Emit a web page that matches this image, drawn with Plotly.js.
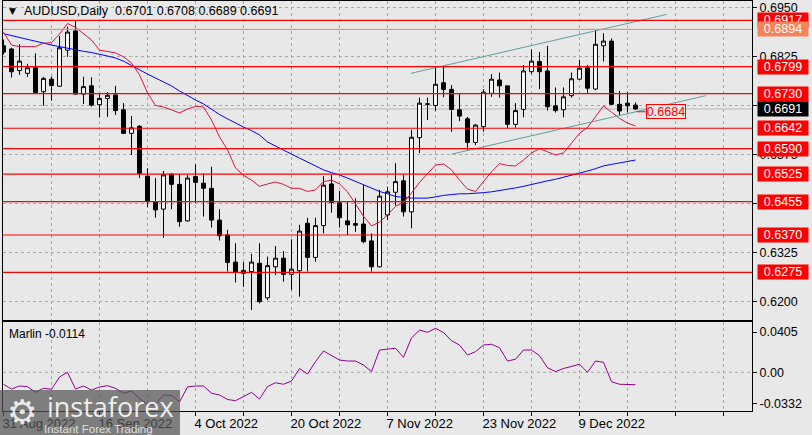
<!DOCTYPE html>
<html><head><meta charset="utf-8">
<script src="https://cdn.plot.ly/plotly-3.0.1.min.js"></script>
<style>html,body{margin:0;padding:0;background:#e8e8e8;}#chart{width:812px;height:435px;}</style>
</head><body><div id="chart"></div>
<script>
const dates = ['2022-08-31','2022-09-01','2022-09-02','2022-09-05','2022-09-06','2022-09-07','2022-09-08','2022-09-09','2022-09-12','2022-09-13',
'2022-09-14','2022-09-15','2022-09-16','2022-09-19','2022-09-20','2022-09-21','2022-09-22','2022-09-23','2022-09-26','2022-09-27',
'2022-09-28','2022-09-29','2022-09-30','2022-10-03','2022-10-04','2022-10-05','2022-10-06','2022-10-07','2022-10-10','2022-10-11',
'2022-10-12','2022-10-13','2022-10-14','2022-10-17','2022-10-18','2022-10-19','2022-10-20','2022-10-21','2022-10-24','2022-10-25',
'2022-10-26','2022-10-27','2022-10-28','2022-10-31','2022-11-01','2022-11-02','2022-11-03','2022-11-04','2022-11-07','2022-11-08',
'2022-11-09','2022-11-10','2022-11-11','2022-11-14','2022-11-15','2022-11-16','2022-11-17','2022-11-18','2022-11-21','2022-11-22',
'2022-11-23','2022-11-24','2022-11-25','2022-11-28','2022-11-29','2022-11-30','2022-12-01','2022-12-02','2022-12-05','2022-12-06',
'2022-12-07','2022-12-08','2022-12-09','2022-12-12','2022-12-13','2022-12-14','2022-12-15','2022-12-16','2022-12-19','2022-12-20'];

const openP = [0.6852,0.6844,0.6789,0.6782,0.6796,0.6735,0.6767,0.6749,0.6841,0.6890,
0.6729,0.6750,0.6702,0.6718,0.6727,0.6689,0.6629,0.6647,0.6520,0.6455,
0.6436,0.6525,0.6499,0.6406,0.6519,0.6502,0.6489,0.6408,0.6370,0.6301,
0.6272,0.6277,0.6298,0.6210,0.6289,0.6311,0.6270,0.6279,0.6400,0.6313,
0.6394,0.6500,0.6452,0.6406,0.6399,0.6398,0.6355,0.6289,0.6421,0.6479,
0.6508,0.6429,0.6618,0.6703,0.6700,0.6758,0.6741,0.6689,0.6666,0.6606,
0.6646,0.6731,0.6765,0.6750,0.6652,0.6690,0.6786,0.6812,0.6788,0.6699,
0.6689,0.6725,0.6767,0.6796,0.6742,0.6852,0.6864,0.6703,0.6706,0.6701];
const highP = [0.6868,0.6847,0.6856,0.6806,0.6833,0.6773,0.6774,0.6877,0.6901,0.6916,
0.6773,0.6772,0.6731,0.6734,0.6750,0.6706,0.6673,0.6650,0.6540,0.6515,
0.6533,0.6527,0.6525,0.6523,0.6550,0.6527,0.6544,0.6436,0.6383,0.6349,
0.6301,0.6322,0.6349,0.6315,0.6342,0.6329,0.6359,0.6396,0.6414,0.6414,
0.6520,0.6523,0.6482,0.6455,0.6464,0.6497,0.6374,0.6485,0.6493,0.6553,
0.6523,0.6638,0.6720,0.6720,0.6799,0.6799,0.6752,0.6731,0.6671,0.6653,
0.6741,0.6780,0.6784,0.6750,0.6706,0.6803,0.6843,0.6836,0.6852,0.6746,
0.6746,0.6784,0.6816,0.6803,0.6892,0.6884,0.6871,0.6737,0.6734,0.6708];
const lowP = [0.6830,0.6771,0.6778,0.6773,0.6729,0.6699,0.6712,0.6748,0.6824,0.6727,
0.6704,0.6697,0.6670,0.6671,0.6676,0.6627,0.6574,0.6515,0.6441,0.6414,
0.6363,0.6436,0.6391,0.6404,0.6452,0.6417,0.6389,0.6356,0.6277,0.6249,
0.6238,0.6179,0.6196,0.6204,0.6268,0.6251,0.6230,0.6213,0.6277,0.6302,
0.6374,0.6427,0.6389,0.6370,0.6378,0.6349,0.6277,0.6287,0.6408,0.6445,
0.6417,0.6387,0.6579,0.6663,0.6686,0.6721,0.6633,0.6660,0.6587,0.6599,
0.6633,0.6722,0.6720,0.6642,0.6643,0.6670,0.6780,0.6742,0.6687,0.6682,
0.6670,0.6720,0.6765,0.6729,0.6739,0.6812,0.6701,0.6676,0.6682,0.6689];
const closeP = [0.6836,0.6786,0.6813,0.6796,0.6733,0.6769,0.6751,0.6847,0.6887,0.6729,
0.6748,0.6701,0.6718,0.6726,0.6687,0.6629,0.6643,0.6527,0.6455,0.6434,
0.6523,0.6499,0.6404,0.6515,0.6504,0.6489,0.6408,0.6368,0.6300,0.6276,
0.6280,0.6301,0.6200,0.6292,0.6311,0.6270,0.6283,0.6380,0.6313,0.6394,
0.6497,0.6453,0.6414,0.6396,0.6395,0.6353,0.6289,0.6469,0.6480,0.6506,
0.6429,0.6619,0.6706,0.6704,0.6754,0.6741,0.6690,0.6673,0.6606,0.6650,
0.6734,0.6767,0.6750,0.6652,0.6687,0.6788,0.6813,0.6786,0.6697,0.6687,
0.6722,0.6768,0.6795,0.6744,0.6856,0.6864,0.6703,0.6686,0.6699,0.6691];

const maFast = [0.6887,0.6854,0.6850,0.6850,0.6850,0.6859,0.6860,0.6882,0.6909,0.6899,
0.6882,0.6867,0.6841,0.6838,0.6834,0.6824,0.6808,0.6778,0.6732,0.6700,
0.6696,0.6689,0.6681,0.6691,0.6698,0.6696,0.6663,0.6620,0.6587,0.6541,
0.6522,0.6510,0.6494,0.6500,0.6505,0.6499,0.6489,0.6489,0.6481,0.6485,
0.6506,0.6510,0.6500,0.6480,0.6449,0.6418,0.6393,0.6403,0.6421,0.6443,
0.6453,0.6477,0.6504,0.6527,0.6548,0.6551,0.6536,0.6510,0.6487,0.6481,
0.6505,0.6531,0.6552,0.6547,0.6546,0.6561,0.6579,0.6590,0.6582,0.6574,
0.6579,0.6604,0.6629,0.6644,0.6672,0.6699,0.6683,0.6667,0.6655,0.6648];
const maSlow = [0.6883,0.6878,0.6873,0.6868,0.6863,0.6858,0.6854,0.6850,0.6846,0.6841,
0.6838,0.6835,0.6831,0.6826,0.6821,0.6813,0.6802,0.6790,0.6780,0.6770,
0.6761,0.6750,0.6737,0.6725,0.6714,0.6704,0.6690,0.6677,0.6666,0.6655,
0.6645,0.6636,0.6625,0.6607,0.6596,0.6587,0.6576,0.6566,0.6556,0.6545,
0.6536,0.6529,0.6523,0.6515,0.6506,0.6499,0.6490,0.6481,0.6475,0.6468,
0.6466,0.6464,0.6464,0.6464,0.6467,0.6471,0.6473,0.6475,0.6475,0.6476,
0.6478,0.6480,0.6483,0.6486,0.6490,0.6494,0.6499,0.6504,0.6508,0.6512,
0.6517,0.6522,0.6527,0.6533,0.6539,0.6546,0.6550,0.6554,0.6557,0.6561];

const marlin = [-0.0110,-0.0154,-0.0126,-0.0132,-0.0184,-0.0147,-0.0156,-0.0043,0.0000,-0.0154,
-0.0126,-0.0163,-0.0135,-0.0123,-0.0147,-0.0193,-0.0172,-0.0239,-0.0294,-0.0294,
-0.0209,-0.0213,-0.0273,-0.0135,-0.0126,-0.0126,-0.0193,-0.0209,-0.0250,-0.0261,
-0.0224,-0.0184,-0.0246,-0.0131,-0.0096,-0.0110,-0.0080,0.0035,-0.0016,0.0099,
0.0196,0.0153,0.0113,0.0104,0.0104,0.0067,0.0007,0.0205,0.0212,0.0221,
0.0138,0.0316,0.0389,0.0368,0.0405,0.0366,0.0291,0.0251,0.0159,0.0190,
0.0251,0.0258,0.0226,0.0104,0.0120,0.0205,0.0205,0.0153,0.0042,0.0007,
0.0035,0.0058,0.0074,0.0000,0.0104,0.0092,-0.0086,-0.0110,-0.0110,-0.0114];

// channel trendline anchors: [bar position, price]
const chanUpperX = [50.94, 82.9], chanUpperY = [0.6782, 0.6932];
const chanLowerX = [56.03, 87.78], chanLowerY = [0.6576, 0.6725];

const redLevels = [0.6917, 0.6799, 0.6730, 0.6642, 0.6590, 0.6525, 0.6455, 0.6370, 0.6275];
const orangeLevel = 0.6894;
const bidLevel = 0.6691;
const markLevel = 0.6684;
const priceTicks = [0.6950, 0.6825, 0.6700, 0.6575, 0.6450, 0.6325, 0.6200];
// Marlin scale labels (max, zero, min); the end labels sit clamped inside the sub-window like the terminal does
const marlinTickText = ['0.0405', '0.00', '-0.0332'];
const marlinTickPos = [0.0370, 0, -0.0285];
const header = 'AUDUSD,Daily  0.6701 0.6708 0.6689 0.6691';
const marlinLabel = 'Marlin -0.0114';

const MONTHS = ['Jan','Feb','Mar','Apr','May','Jun','Jul','Aug','Sep','Oct','Nov','Dec'];
const idx = dates.map((d, i) => i);
function fmtDate(s) { const p = s.split('-'); return (+p[2]) + ' ' + MONTHS[+p[1]-1] + ' ' + p[0]; }
const xTickVals = [], xTickText = [];
for (let i = 0; i <= 90; i += 6) { xTickVals.push(i); xTickText.push((i % 12 === 0 && i < dates.length) ? fmtDate(dates[i]) : ''); }

const FONT = 'Liberation Sans, Arial, sans-serif';
const BG = '#e8e8e8';
const GRID = '#a8a8a8';

const traces = [
  { type: 'candlestick', x: idx, open: openP, high: highP, low: lowP, close: closeP, xaxis: 'x2', yaxis: 'y',
    increasing: { line: { color: '#000000', width: 1 }, fillcolor: '#ffffff' },
    decreasing: { line: { color: '#000000', width: 1 }, fillcolor: '#000000' },
    whiskerwidth: 0, hoverinfo: 'skip' },
  { type: 'scatter', mode: 'lines', x: idx, y: maSlow, xaxis: 'x2', yaxis: 'y', line: { color: '#0000ff', width: 1 }, hoverinfo: 'skip' },
  { type: 'scatter', mode: 'lines', x: idx, y: maFast, xaxis: 'x2', yaxis: 'y', line: { color: '#dc143c', width: 1 }, hoverinfo: 'skip' },
  { type: 'scatter', mode: 'lines', x: chanUpperX, y: chanUpperY, xaxis: 'x2', yaxis: 'y', line: { color: '#5f9ea0', width: 1 }, hoverinfo: 'skip' },
  { type: 'scatter', mode: 'lines', x: chanLowerX, y: chanLowerY, xaxis: 'x2', yaxis: 'y', line: { color: '#5f9ea0', width: 1 }, hoverinfo: 'skip' },
  { type: 'scatter', mode: 'lines', x: idx, y: marlin, xaxis: 'x', yaxis: 'y2', line: { color: '#900090', width: 1 }, hoverinfo: 'skip' }
];

const shapes = [];
redLevels.forEach(v => shapes.push({ type: 'line', xref: 'paper', x0: 0, x1: 1, yref: 'y', y0: v, y1: v, line: { color: '#ff0000', width: 1.2 }, layer: 'above' }));
shapes.push({ type: 'line', xref: 'paper', x0: 0, x1: 1, yref: 'y', y0: orangeLevel, y1: orangeLevel, line: { color: '#f08060', width: 1 }, layer: 'above' });
shapes.push({ type: 'line', xref: 'paper', x0: 0, x1: 1, yref: 'y', y0: bidLevel, y1: bidLevel, line: { color: '#b8b8b8', width: 1 }, layer: 'below' });
shapes.push({ type: 'line', xref: 'paper', x0: 0, x1: 1, yref: 'y2', y0: 0, y1: 0, line: { color: GRID, width: 1, dash: '3px,3px' }, layer: 'below' });
shapes.push({ type: 'line', xref: 'x2', x0: idx[idx.length-1] + 0.15, x1: 80.3, yref: 'y', y0: markLevel, y1: markLevel, line: { color: '#ff0000', width: 1 }, layer: 'above' });
// watermark box
shapes.push({ type: 'rect', xref: 'paper', yref: 'paper', x0: -0.005, x1: 0.2363, y0: -0.06, y1: 0.0512, fillcolor: 'rgba(85,85,85,0.72)', line: { width: 0 }, layer: 'above' });

const annotations = [];
annotations.push({ xref: 'paper', yref: 'paper', x: 0.0053, y: 0.9756, xanchor: 'left', yanchor: 'middle', text: '▼', showarrow: false, font: { family: 'DejaVu Sans', size: 9, color: '#000' } });
annotations.push({ xref: 'paper', yref: 'paper', x: 0.0254, y: 0.9756, xanchor: 'left', yanchor: 'middle', text: header, showarrow: false, font: { family: FONT, size: 12.5, color: '#000' } });
annotations.push({ xref: 'paper', yref: 'y2 domain', x: 0.0053, y: 0.86, xanchor: 'left', yanchor: 'middle', text: marlinLabel, showarrow: false, font: { family: FONT, size: 12, color: '#000' } });
redLevels.forEach(v => {
  annotations.push({ xref: 'paper', x: 1, xanchor: 'left', xshift: 5, yref: 'y', y: v, yanchor: 'middle', text: v.toFixed(4), showarrow: false,
    bgcolor: '#ff0000', width: 50, height: 14, borderpad: 0, font: { family: FONT, size: 12.5, color: '#ffffff' } });
  if (v === 0.6917) {
    annotations.push({ xref: 'paper', x: 1, xanchor: 'left', xshift: 5, yref: 'y', y: orangeLevel, yanchor: 'middle', text: orangeLevel.toFixed(4), showarrow: false,
      bgcolor: '#f4845c', width: 50, height: 14, borderpad: 0, font: { family: FONT, size: 12.5, color: '#ffffff' } });
  }
});
annotations.push({ xref: 'paper', x: 1, xanchor: 'left', xshift: 5, yref: 'y', y: bidLevel, yanchor: 'middle', text: bidLevel.toFixed(4), showarrow: false,
  bgcolor: '#000000', width: 50, height: 14, borderpad: 0, font: { family: FONT, size: 12.5, color: '#ffffff' } });
annotations.push({ xref: 'x2', x: 80.3, xanchor: 'left', yref: 'y', y: markLevel, yanchor: 'middle', text: markLevel.toFixed(4), showarrow: false,
  bgcolor: BG, bordercolor: '#ff0000', borderwidth: 1, borderpad: 0, width: 38, height: 13, font: { family: FONT, size: 12.5, color: '#ff0000' } });
// watermark texts
annotations.push({ xref: 'paper', yref: 'paper', x: 0.0254, y: -0.0024, xanchor: 'center', yanchor: 'middle', text: '⚙', showarrow: false, font: { family: 'DejaVu Sans', size: 34, color: 'rgba(255,255,255,0.85)' } });
annotations.push({ xref: 'paper', yref: 'paper', x: 0.1429, y: 0.012, xanchor: 'center', yanchor: 'middle', text: 'instaforex', showarrow: false, font: { family: 'Open Sans', size: 27, color: 'rgba(255,255,255,0.9)' } });
annotations.push({ xref: 'paper', yref: 'paper', x: 0.127, y: -0.0445, xanchor: 'center', yanchor: 'middle', text: 'Instant Forex Trading', showarrow: false, font: { family: FONT, size: 11.5, color: 'rgba(255,255,255,0.75)' } });

const layout = {
  width: 812, height: 435,
  margin: { l: 3, r: 60, t: 1, b: 24 },
  paper_bgcolor: BG, plot_bgcolor: BG,
  showlegend: false,
  font: { family: FONT, size: 13, color: '#000' },
  xaxis: { domain: [0, 1], anchor: 'y2', range: [-0.0625, 93.5625], tickmode: 'array', tickvals: xTickVals, ticktext: xTickText,
    showgrid: true, gridcolor: GRID, griddash: '3px,3px', gridwidth: 1, zeroline: false,
    showline: true, mirror: true, linecolor: '#000', linewidth: 1,
    ticks: 'outside', ticklen: 4, tickcolor: '#000', ticklabelposition: 'outside right', ticklabelshift: -2,
    tickfont: { family: FONT, size: 13, color: '#000' } },
  xaxis2: { domain: [0, 1], anchor: 'y', matches: 'x', range: [-0.0625, 93.5625], tickmode: 'array', tickvals: xTickVals, showticklabels: false,
    showgrid: true, gridcolor: GRID, griddash: '3px,3px', gridwidth: 1, zeroline: false, ticks: '',
    showline: true, mirror: true, linecolor: '#000', linewidth: 1, rangeslider: { visible: false } },
  yaxis: { domain: [0.222, 1], anchor: 'x2', side: 'right', range: [0.61535, 0.69662], tickmode: 'array', tickvals: priceTicks,
    ticktext: priceTicks.map(v => v.toFixed(4)), showgrid: true, gridcolor: GRID, griddash: '3px,3px', zeroline: false,
    showline: true, mirror: true, linecolor: '#000', linewidth: 1, ticks: 'outside', ticklen: 4, tickcolor: '#000',
    tickfont: { family: FONT, size: 12.5, color: '#000' } },
  yaxis2: { domain: [0, 0.2171], anchor: 'x', side: 'right', range: [-0.0356, 0.0463], tickmode: 'array', tickvals: marlinTickPos,
    ticktext: marlinTickText, showgrid: false, zeroline: false,
    showline: true, mirror: true, linecolor: '#000', linewidth: 1, ticks: 'outside', ticklen: 4, tickcolor: '#000',
    tickfont: { family: FONT, size: 12.5, color: '#000' } },
  shapes: shapes,
  annotations: annotations
};

Plotly.newPlot('chart', traces, layout, { staticPlot: true, displayModeBar: false });
</script></body></html>
